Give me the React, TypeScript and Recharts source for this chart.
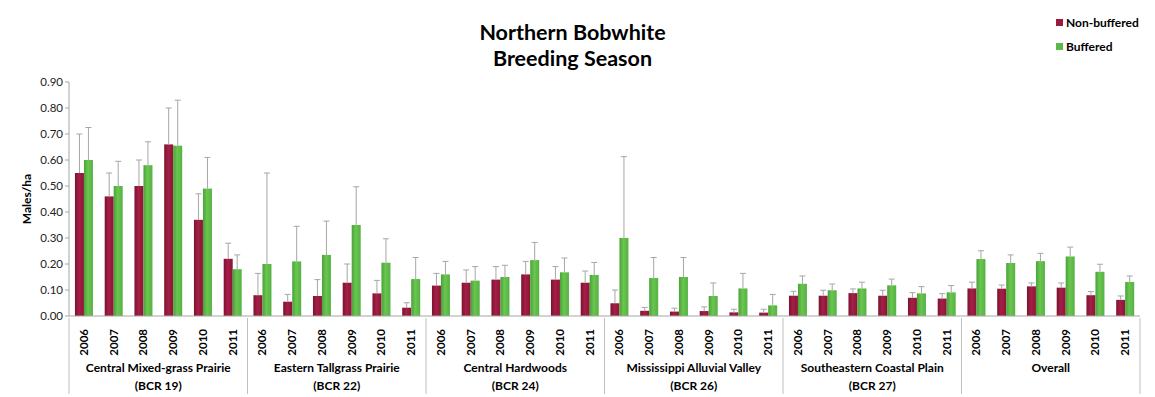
import { BarChart, Bar, XAxis, YAxis } from 'recharts';

// regions (BCRs) and survey years
const regions = [
  ['Central Mixed-grass Prairie', '(BCR 19)'],
  ['Eastern Tallgrass Prairie', '(BCR 22)'],
  ['Central Hardwoods', '(BCR 24)'],
  ['Mississippi Alluvial Valley', '(BCR 26)'],
  ['Southeastern Coastal Plain', '(BCR 27)'],
  ['Overall', ''],
];
const years = ['2006', '2007', '2008', '2009', '2010', '2011'];

// males/ha, 6 years per region in region order
const nonBuffered = [
  0.55, 0.46, 0.50, 0.66, 0.37, 0.22,
  0.08, 0.055, 0.077, 0.128, 0.087, 0.032,
  0.117, 0.128, 0.14, 0.16, 0.14, 0.128,
  0.049, 0.02, 0.017, 0.019, 0.014, 0.013,
  0.078, 0.078, 0.088, 0.078, 0.07, 0.067,
  0.106, 0.105, 0.114, 0.109, 0.08, 0.062,
];
const nonBufferedTop = [
  0.70, 0.55, 0.60, 0.80, 0.47, 0.28,
  0.164, 0.083, 0.14, 0.20, 0.137, 0.051,
  0.164, 0.177, 0.19, 0.21, 0.19, 0.173,
  0.10, 0.033, 0.03, 0.035, 0.026, 0.026,
  0.095, 0.099, 0.104, 0.099, 0.09, 0.086,
  0.13, 0.119, 0.127, 0.127, 0.094, 0.077,
];
const buffered = [
  0.60, 0.50, 0.58, 0.655, 0.49, 0.18,
  0.20, 0.21, 0.235, 0.35, 0.205, 0.142,
  0.16, 0.136, 0.15, 0.215, 0.168, 0.158,
  0.30, 0.146, 0.15, 0.077, 0.106, 0.041,
  0.124, 0.099, 0.106, 0.118, 0.087, 0.091,
  0.219, 0.204, 0.211, 0.229, 0.17, 0.131,
];
const bufferedTop = [
  0.725, 0.595, 0.67, 0.83, 0.61, 0.235,
  0.55, 0.345, 0.365, 0.497, 0.297, 0.225,
  0.21, 0.19, 0.195, 0.283, 0.223, 0.206,
  0.613, 0.225, 0.225, 0.127, 0.164, 0.083,
  0.154, 0.123, 0.13, 0.142, 0.113, 0.117,
  0.251, 0.235, 0.241, 0.265, 0.199, 0.154,
];
const yTicks = [0, 0.1, 0.2, 0.3, 0.4, 0.5, 0.6, 0.7, 0.8, 0.9];

const data = nonBuffered.map((v, i) => ({
  key: `${Math.floor(i / 6)}-${years[i % 6]}`,
  year: years[i % 6],
  region: Math.floor(i / 6),
  nb: v,
  nbTop: nonBufferedTop[i],
  b: buffered[i],
  bTop: bufferedTop[i],
}));

const FONT = 'Lato, "Open Sans", sans-serif';
const ERR = '#a6a6a6';

// bar plus a one-sided (plus) error bar, scaled from the bar's own px/unit
function barWithError(fill: string, topKey: string, valKey: string) {
  return (props: any) => {
    const { x, y, width, height, payload } = props;
    const val = payload[valKey];
    const top = payload[topKey];
    const pxPerUnit = val > 0 ? height / val : 0;
    const ey = y - (top - val) * pxPerUnit;
    const cx = x + width / 2;
    return (
      <g>
        <rect x={x} y={y} width={width} height={height} fill={fill} />
        <line x1={cx} x2={cx} y1={y} y2={ey} stroke={ERR} strokeWidth={1} />
        <line x1={cx - 3} x2={cx + 3} y1={ey} y2={ey} stroke={ERR} strokeWidth={1} />
      </g>
    );
  };
}

function YearTick(props: any) {
  const { x, y, payload, index, width, visibleTicksCount } = props;
  const band = width / (visibleTicksCount || 36);
  const d = data[index];
  const yr = d ? d.year : payload.value;
  const els: any[] = [
    <text key="yr" transform={`translate(${x},${y + 11}) rotate(-90)`} textAnchor="end" dy="0.35em"
      fontFamily={FONT} fontWeight={700} fontSize={11.5} fill="#000">{yr}</text>,
  ];
  if (index % 6 === 0) {
    const left = x - band / 2;
    const mid = left + band * 3;
    const r = regions[Math.floor(index / 6)];
    els.push(<line key="sep" x1={left} x2={left} y1={y} y2={y + 76} stroke="#bfbfbf" />);
    els.push(
      <text key="g1" x={mid} y={y + 54} textAnchor="middle" fontFamily={FONT} fontWeight={700} fontSize={12} fill="#000">{r[0]}</text>,
    );
    if (r[1]) {
      els.push(
        <text key="g2" x={mid} y={y + 72} textAnchor="middle" fontFamily={FONT} fontWeight={700} fontSize={12} fill="#000">{r[1]}</text>,
      );
    }
  }
  if (index === data.length - 1) {
    const right = x + band / 2;
    els.push(<line key="sepR" x1={right} x2={right} y1={y} y2={y + 76} stroke="#bfbfbf" />);
  }
  return <g>{els}</g>;
}

export default function App() {
  return (
    <div style={{ position: 'absolute', left: 0, top: 0, width: 1155, height: 397, background: '#fff' }}>
      <div style={{ position: 'absolute', left: 0, width: 1145, top: 19, textAlign: 'center', fontFamily: FONT, fontWeight: 700, fontSize: 21.5, lineHeight: '26px', color: '#000' }}>
        Northern Bobwhite<br />Breeding Season
      </div>
      <div style={{ position: 'absolute', left: 1056, top: 15, fontFamily: FONT, fontWeight: 700, fontSize: 12, color: '#000' }}>
        {[['Non-buffered', '#9b1a3b'], ['Buffered', '#5cb848']].map(([t, c]) => (
          <div key={t} style={{ display: 'flex', alignItems: 'center', height: 14, marginBottom: 10 }}>
            <span style={{ display: 'inline-block', width: 7, height: 7, background: c, marginRight: 3 }} />
            {t}
          </div>
        ))}
      </div>
      <BarChart width={1155} height={397} data={data} margin={{ top: 82, right: 15, left: 0, bottom: 0 }}
        barCategoryGap="20%" barGap={0}>
        <defs>
          <linearGradient id="gRed" x1="0" x2="1" y1="0" y2="0">
            <stop offset="0%" stopColor="#7c1230" />
            <stop offset="45%" stopColor="#a51f46" />
            <stop offset="100%" stopColor="#8a1636" />
          </linearGradient>
          <linearGradient id="gGreen" x1="0" x2="1" y1="0" y2="0">
            <stop offset="0%" stopColor="#4aa23a" />
            <stop offset="45%" stopColor="#6ac64f" />
            <stop offset="100%" stopColor="#55b143" />
          </linearGradient>
        </defs>
        <XAxis dataKey="key" interval={0} height={81} tickSize={0} tickLine={false}
          axisLine={{ stroke: '#a6a6a6' }} tick={<YearTick />} />
        <YAxis domain={[0, 0.9]} ticks={yTicks} width={69} tickSize={4}
          tickFormatter={(v: number) => v.toFixed(2)}
          tick={{ fontFamily: FONT, fontSize: 11.5, fill: '#222' }}
          axisLine={{ stroke: '#a6a6a6' }} tickLine={{ stroke: '#a6a6a6' }}
          label={() => (
            <text transform="translate(27,199) rotate(-90)" textAnchor="middle" dy="0.35em"
              fontFamily={FONT} fontWeight={700} fontSize={12} fill="#000">Males/ha</text>
          )} />
        <Bar dataKey="nb" name="Non-buffered" isAnimationActive={false}
          shape={barWithError('url(#gRed)', 'nbTop', 'nb')} />
        <Bar dataKey="b" name="Buffered" isAnimationActive={false}
          shape={barWithError('url(#gGreen)', 'bTop', 'b')} />
      </BarChart>
    </div>
  );
}
